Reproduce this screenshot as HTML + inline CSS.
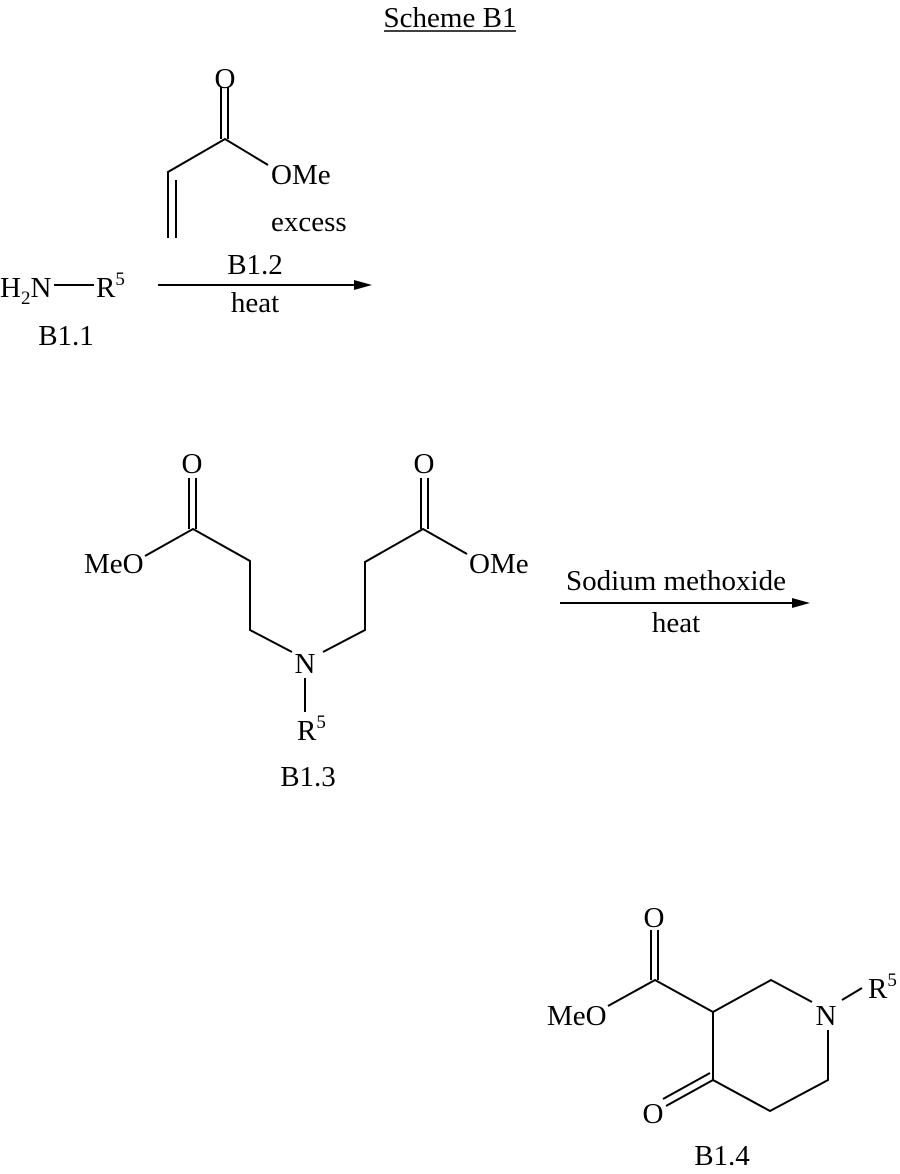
<!DOCTYPE html>
<html><head><style>
body{margin:0;background:#fff}
svg{display:block}
text{font-family:"Liberation Serif",serif;font-size:29px;fill:#000}
.s{font-size:19px}
</style></head><body>
<svg width="900" height="1174" viewBox="0 0 900 1174">
<g stroke="#000" stroke-width="2" fill="none">
<line x1="384" y1="31" x2="516" y2="31" stroke-width="1.5"/>
<line x1="221" y1="87" x2="221" y2="139"/>
<line x1="228" y1="87" x2="228" y2="139"/>
<polyline points="268,165 225,139 168,172 168,238"/>
<line x1="176" y1="180" x2="176" y2="238"/>
<line x1="54" y1="285" x2="94" y2="285"/>
<line x1="158" y1="285" x2="358" y2="285"/>
<line x1="189" y1="478" x2="189" y2="529"/>
<line x1="196" y1="478" x2="196" y2="529"/>
<polyline points="145,556 193,529 250,561 250,630 292,652"/>
<polyline points="323,652 365,630 365,562 423,529 467,554"/>
<line x1="421" y1="478" x2="421" y2="529"/>
<line x1="428" y1="478" x2="428" y2="529"/>
<line x1="305" y1="678" x2="305" y2="712"/>
<line x1="560" y1="603" x2="796" y2="603"/>
<line x1="651" y1="930" x2="651" y2="980"/>
<line x1="658" y1="930" x2="658" y2="980"/>
<polyline points="608,1006 655,980 713,1012 771,980 812,1002"/>
<line x1="842" y1="1000" x2="862" y2="988"/>
<polyline points="828,1030 828,1080 770,1111 713,1080 713,1012"/>
<line x1="713" y1="1080" x2="666" y2="1106"/>
<line x1="710" y1="1073" x2="663" y2="1099"/>
</g>
<polygon points="372,285 354,280 354,290" fill="#000"/>
<polygon points="810,603 792,598 792,608" fill="#000"/>
<text x="450" y="27" text-anchor="middle">Scheme B1</text>
<text x="225" y="88" text-anchor="middle">O</text>
<text x="271" y="184">OMe</text>
<text x="271" y="231">excess</text>
<text x="255" y="274" text-anchor="middle">B1.2</text>
<text x="255" y="312" text-anchor="middle">heat</text>
<text x="0" y="297">H<tspan class="s" dy="7">2</tspan><tspan dy="-7">N</tspan></text>
<text x="96" y="297">R<tspan class="s" dy="-12">5</tspan></text>
<text x="66" y="345" text-anchor="middle">B1.1</text>
<text x="192" y="473" text-anchor="middle">O</text>
<text x="424" y="473" text-anchor="middle">O</text>
<text x="84" y="573">MeO</text>
<text x="469" y="573">OMe</text>
<text x="305" y="673" text-anchor="middle">N</text>
<text x="297" y="740">R<tspan class="s" dy="-12">5</tspan></text>
<text x="308" y="786" text-anchor="middle">B1.3</text>
<text x="676" y="590" text-anchor="middle">Sodium methoxide</text>
<text x="676" y="632" text-anchor="middle">heat</text>
<text x="654" y="927" text-anchor="middle">O</text>
<text x="547" y="1025">MeO</text>
<text x="826" y="1025" text-anchor="middle">N</text>
<text x="868" y="998">R<tspan class="s" dy="-12">5</tspan></text>
<text x="653" y="1123" text-anchor="middle">O</text>
<text x="722" y="1165" text-anchor="middle">B1.4</text>
</svg>
</body></html>
